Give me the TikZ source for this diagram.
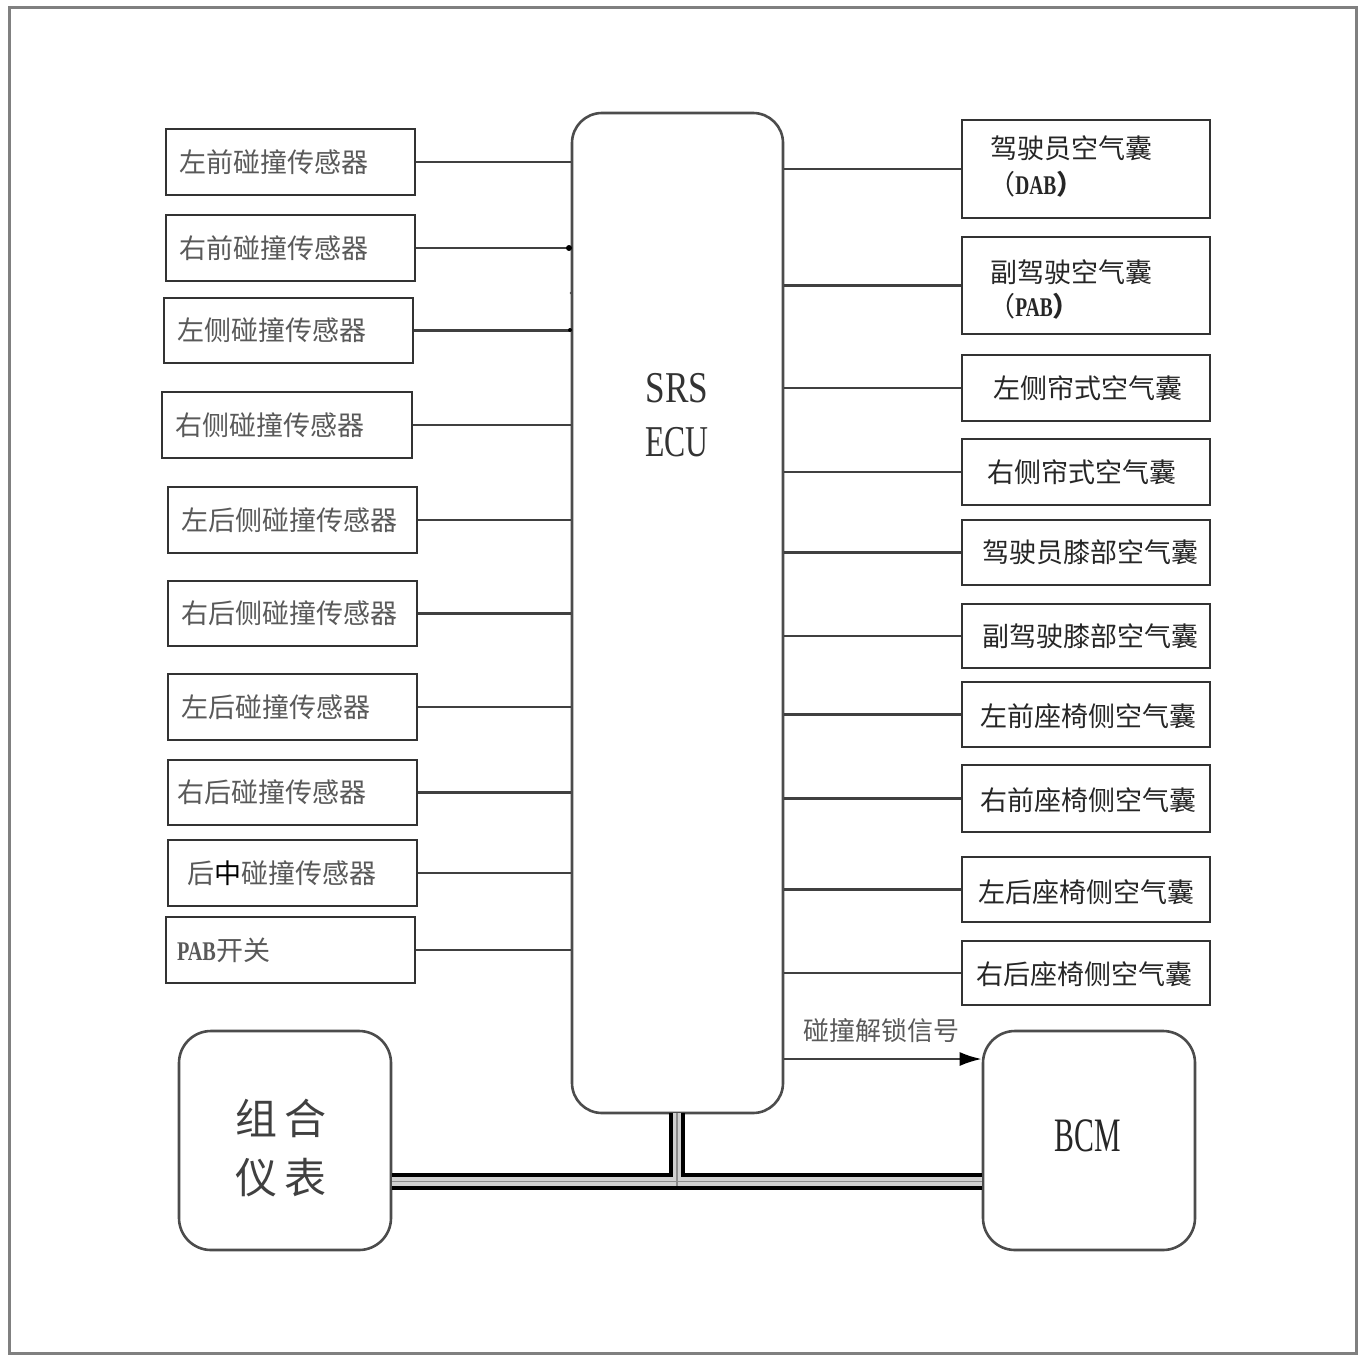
\documentclass[tikz,border=0pt]{standalone}
\usepackage{fontspec}
\setmainfont{Liberation Serif}
\newfontfamily\cjk{Noto Sans CJK SC}
\usetikzlibrary{arrows.meta,fit}
\begin{document}
\begin{tikzpicture}[x=0.5pt,y=-0.5pt,
  box/.style={draw=black!80,line width=1.4pt,inner sep=0pt,fill=white},
  rbox/.style={draw=black!70,line width=1.3pt,inner sep=0pt,rounded corners=16pt,fill=white},
  wire/.style={draw=black!75,line width=1.2pt},
  ltxt/.style={font=\cjk\fontsize{13.5pt}{16pt}\selectfont,text=black!65,anchor=west,inner sep=0pt},
  rtxt/.style={font=\cjk\fontsize{13.5pt}{16pt}\selectfont,text=black!85,inner sep=0pt},
  busline/.style={draw=black,line width=1.7pt},
  busmid/.style={draw=black!18,line width=4.6pt},
  busmidline/.style={draw=black!45,line width=0.8pt}]
\useasboundingbox (0,0) rectangle (1364,1354);
% outer frame
\draw[draw=black!50,line width=1.5pt] (9,8) rectangle (1356,1353);

% ECU
\node[rbox,rounded corners=15pt,fit={(572,113) (783,1113)}] (ecu) {};
\node[text=black!80,align=center,font=\fontsize{22pt}{27pt}\selectfont] (ecut) at (677,415)
  {\scalebox{0.8}[1]{SRS}\\\scalebox{0.72}[1]{ECU}};

% left boxes
\node[box,fit={(166,129) (415,195)}] (L1) {};
\node[box,fit={(166,215) (415,281)}] (L2) {};
\node[box,fit={(164,298) (413,363)}] (L3) {};
\node[box,fit={(162,392) (412,458)}] (L4) {};
\node[box,fit={(168,487) (417,553)}] (L5) {};
\node[box,fit={(168,581) (417,646)}] (L6) {};
\node[box,fit={(168,674) (417,740)}] (L7) {};
\node[box,fit={(168,760) (417,825)}] (L8) {};
\node[box,fit={(168,840) (417,906)}] (L9) {};
\node[box,fit={(166,917) (415,983)}] (L10) {};

\node[ltxt] (t1) at ([xshift=7pt]L1.west) {左前碰撞传感器};
\node[ltxt] (t2) at ([xshift=7pt]L2.west) {右前碰撞传感器};
\node[ltxt] (t3) at ([xshift=7pt]L3.west) {左侧碰撞传感器};
\node[ltxt] (t4) at ([xshift=7pt]L4.west) {右侧碰撞传感器};
\node[ltxt] (t5) at ([xshift=7pt]L5.west) {左后侧碰撞传感器};
\node[ltxt] (t6) at ([xshift=7pt]L6.west) {右后侧碰撞传感器};
\node[ltxt] (t7) at ([xshift=7pt]L7.west) {左后碰撞传感器};
\node[ltxt] (t8) at ([xshift=5pt]L8.west) {右后碰撞传感器};
\node[ltxt] (t9) at ([xshift=10pt]L9.west) {后{\color{black}中}碰撞传感器};
\node[ltxt] (t10) at ([xshift=6pt]L10.west) {{\fontspec{Liberation Serif}\bfseries\scalebox{0.75}[1]{PAB}}开关};

\foreach \i in {1,...,10}{\draw[wire] (L\i.east) -- (L\i.east -| ecu.west);}
\fill[black] (569,248) circle (3);
\fill[black!70] (571,293) circle (1.5);
\fill[black] (570,330) circle (2);

% right boxes
\node[box,fit={(962,120) (1210,218)}] (R1) {};
\node[box,fit={(962,237) (1210,334)}] (R2) {};
\node[box,fit={(962,355) (1210,421)}] (R3) {};
\node[box,fit={(962,439) (1210,505)}] (R4) {};
\node[box,fit={(962,520) (1210,585)}] (R5) {};
\node[box,fit={(962,604) (1210,668)}] (R6) {};
\node[box,fit={(962,682) (1210,747)}] (R7) {};
\node[box,fit={(962,765) (1210,832)}] (R8) {};
\node[box,fit={(962,857) (1210,922)}] (R9) {};
\node[box,fit={(962,941) (1210,1005)}] (R10) {};

\node[rtxt,anchor=west] (s1a) at (990,148) {驾驶员空气囊};
\node[rtxt,anchor=west] (s1b) at (988,184) {（\fontspec{Liberation Serif}\bfseries\scalebox{0.72}[1]{DAB}{\cjk ）}};
\node[rtxt,anchor=west] (s2a) at (990,272) {副驾驶空气囊};
\node[rtxt,anchor=west] (s2b) at (988,306) {（\fontspec{Liberation Serif}\bfseries\scalebox{0.72}[1]{PAB}{\cjk ）}};
\node[rtxt] (s3) at (1088,388) {左侧帘式空气囊};
\node[rtxt] (s4) at (1082,472) {右侧帘式空气囊};
\node[rtxt] (s5) at (1090,552) {驾驶员膝部空气囊};
\node[rtxt] (s6) at (1090,636) {副驾驶膝部空气囊};
\node[rtxt] (s7) at (1088,716) {左前座椅侧空气囊};
\node[rtxt] (s8) at (1088,800) {右前座椅侧空气囊};
\node[rtxt] (s9) at (1086,892) {左后座椅侧空气囊};
\node[rtxt] (s10) at (1084,974) {右后座椅侧空气囊};

\foreach \i in {1,...,10}{\draw[wire] (R\i.west -| ecu.east) -- (R\i.west);}

% bottom modules
\node[rbox,fit={(179,1031) (391,1250)}] (ic) {};
\node[text=black!75,align=center,font=\cjk\fontsize{21pt}{29.5pt}\selectfont] (ict) at (281,1148)
  {组\hspace{4pt}合\\仪\hspace{4pt}表};
\node[rbox,fit={(983,1031) (1195,1250)}] (bcm) {};
\node[text=black!85,font=\fontsize{24pt}{28pt}\selectfont] (bcmt) at (1088,1136) {\scalebox{0.62}[1]{BCM}};

% unlock signal arrow
\coordinate (sigs) at (ecu.east |- 0,1059);
\coordinate (sige) at (bcm.west |- 0,1059);
\draw[wire,-{Latex[length=11pt,width=7pt,fill=black,color=black]}] (sigs) -- (sige);
\node[text=black!65,font=\cjk\fontsize{13pt}{15pt}\selectfont] (sigl) at (881,1031) {碰撞解锁信号};

% bus
\coordinate (ecuL) at (671,1113);
\coordinate (ecuR) at (683,1113);
\coordinate (ecuM) at (677,1113);
\draw[busmid] (ic.east |- 0,1181.5) -- (bcm.west |- 0,1181.5);
\draw[busmid] (ecuM) -- (677,1181.5);
\draw[busmidline] (ic.east |- 0,1181.5) -- (bcm.west |- 0,1181.5);
\draw[busmidline] (ecuM) -- (677,1188);
\draw[busline] (ic.east |- 0,1175) -- (671,1175) -- (ecuL);
\draw[busline] (bcm.west |- 0,1175) -- (683,1175) -- (ecuR);
\draw[busline] (ic.east |- 0,1188) -- (bcm.west |- 0,1188);
\end{tikzpicture}
\end{document}
